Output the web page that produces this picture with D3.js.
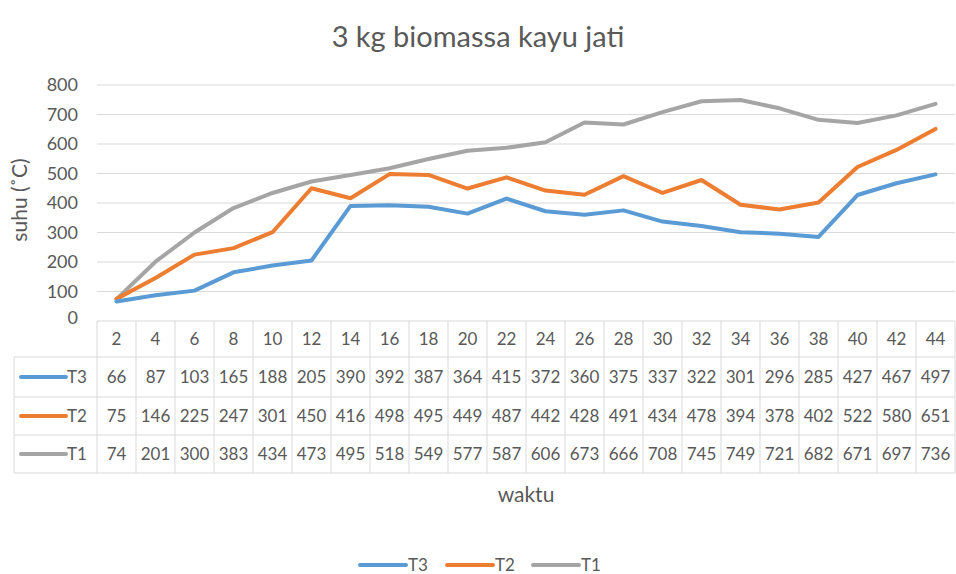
<!DOCTYPE html>
<html>
<meta charset="utf-8">
<style>
body{ margin:0; background:#fff; }
text{ font-family: Lato, "Open Sans", sans-serif; fill:#595959; }
</style>
<body>
<svg width="956" height="574"></svg>
<script src="https://d3js.org/d3.v7.min.js"></script>
<script>

var waktu = [2,4,6,8,10,12,14,16,18,20,22,24,26,28,30,32,34,36,38,40,42,44];
var t3 = [66,87,103,165,188,205,390,392,387,364,415,372,360,375,337,322,301,296,285,427,467,497];
var t2 = [75,146,225,247,301,450,416,498,495,449,487,442,428,491,434,478,394,378,402,522,580,651];
var t1 = [74,201,300,383,434,473,495,518,549,577,587,606,673,666,708,745,749,721,682,671,697,736];
var yTicks = [0,100,200,300,400,500,600,700,800];

var series = [
  {name:"T3", values:t3, color:"#5B9BD5"},
  {name:"T2", values:t2, color:"#ED7D31"},
  {name:"T1", values:t1, color:"#A5A5A5"}
];

var svg = d3.select("svg"),
    plotLeft = 97, plotRight = 955, plotTop = 85, plotBottom = 321,
    rowTops = [321, 357, 397, 435, 473],
    tableLeft = 14,
    grid = "#d9d9d9";

var x = d3.scaleBand().domain(waktu).range([plotLeft, plotRight]);
var y = d3.scaleLinear().domain([0, 800]).range([plotBottom, plotTop]);

// title
svg.append("text")
    .attr("x", 478).attr("y", 47)
    .attr("text-anchor", "middle")
    .style("font-size", "29px")
    .text("3 kg biomassa kayu jati");

// gridlines + y labels
svg.selectAll(".grid")
  .data(yTicks.filter(function(d) { return d > 0; }))
  .enter().append("line")
    .attr("x1", plotLeft).attr("x2", plotRight)
    .attr("y1", function(d) { return y(d); })
    .attr("y2", function(d) { return y(d); })
    .attr("stroke", grid).attr("stroke-width", 1);

svg.selectAll(".ylab")
  .data(yTicks)
  .enter().append("text")
    .attr("x", 78)
    .attr("y", function(d) { return d == 0 ? y(d) + 3 : y(d) + 6; })
    .attr("text-anchor", "end")
    .style("font-size", "18px")
    .text(function(d) { return d; });

svg.append("text")
    .attr("transform", "translate(27,200) rotate(-90)")
    .attr("text-anchor", "middle")
    .style("font-size", "21px")
    .text("suhu (˚C)");

// data table
var tbl = svg.append("g").attr("stroke", grid).attr("stroke-width", 1);
rowTops.forEach(function(r, i) {
  tbl.append("line")
    .attr("x1", i == 0 ? plotLeft : tableLeft).attr("x2", plotRight)
    .attr("y1", r).attr("y2", r);
});
waktu.forEach(function(w) {
  tbl.append("line")
    .attr("x1", x(w)).attr("x2", x(w))
    .attr("y1", rowTops[0]).attr("y2", rowTops[4]);
});
tbl.append("line").attr("x1", plotRight).attr("x2", plotRight).attr("y1", rowTops[0]).attr("y2", rowTops[4]);
tbl.append("line").attr("x1", tableLeft).attr("x2", tableLeft).attr("y1", rowTops[1]).attr("y2", rowTops[4]);

svg.selectAll(".hdr")
  .data(waktu)
  .enter().append("text")
    .attr("x", function(d) { return x(d) + x.bandwidth() / 2; })
    .attr("y", (rowTops[0] + rowTops[1]) / 2 + 6)
    .attr("text-anchor", "middle")
    .style("font-size", "17px")
    .text(function(d) { return d; });

series.forEach(function(s, i) {
  var cy = (rowTops[i + 1] + rowTops[i + 2]) / 2;
  svg.append("line")
    .attr("x1", 21).attr("x2", 66)
    .attr("y1", cy).attr("y2", cy)
    .attr("stroke", s.color).attr("stroke-width", 4).attr("stroke-linecap", "round");
  svg.append("text")
    .attr("x", 67).attr("y", cy + 6)
    .style("font-size", "17px")
    .text(s.name);
  svg.selectAll(".cell" + i)
    .data(s.values)
    .enter().append("text")
      .attr("x", function(d, j) { return x(waktu[j]) + x.bandwidth() / 2; })
      .attr("y", cy + 6)
      .attr("text-anchor", "middle")
      .style("font-size", "17px")
      .text(function(d) { return d; });
});

// lines
var line = d3.line()
    .x(function(d, j) { return x(waktu[j]) + x.bandwidth() / 2; })
    .y(function(d) { return y(d); });

series.slice().reverse().forEach(function(s) {
  svg.append("path")
    .datum(s.values)
    .attr("d", line)
    .attr("fill", "none")
    .attr("stroke", s.color)
    .attr("stroke-width", 4)
    .attr("stroke-linejoin", "round")
    .attr("stroke-linecap", "round");
});

// x title
svg.append("text")
    .attr("x", (plotLeft + plotRight) / 2).attr("y", 502)
    .attr("text-anchor", "middle")
    .style("font-size", "21px")
    .text("waktu");

// legend
var lx = [360, 447, 533];
series.forEach(function(s, i) {
  svg.append("line")
    .attr("x1", lx[i]).attr("x2", lx[i] + 46)
    .attr("y1", 565).attr("y2", 565)
    .attr("stroke", s.color).attr("stroke-width", 4).attr("stroke-linecap", "round");
  svg.append("text")
    .attr("x", lx[i] + 48).attr("y", 571)
    .style("font-size", "17px")
    .text(s.name);
});

</script>
</body>
</html>
